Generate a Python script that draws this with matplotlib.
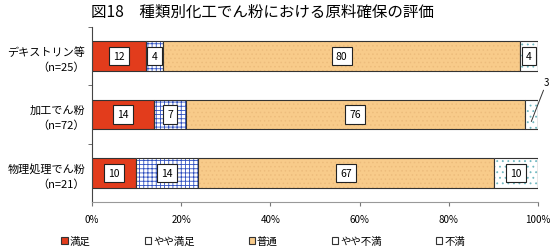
import matplotlib
matplotlib.use("Agg")
import matplotlib.pyplot as plt
from matplotlib.patches import Patch
import numpy as np

plt.rcParams['font.family'] = ['Noto Sans CJK JP', 'DejaVu Sans']
plt.rcParams['hatch.linewidth'] = 0.6

title = "図18　種類別化工でん粉における原料確保の評価"
categories = ["デキストリン等\n（n=25）", "加工でん粉\n（n=72）", "物理処理でん粉\n（n=21）"]
series = ["満足", "やや満足", "普通", "やや不満", "不満"]
v_manzoku = [12, 14, 10]
v_yaya_manzoku = [4, 7, 14]
v_futsu = [80, 76, 67]
v_yaya_fuman = [4, 3, 10]
v_fuman = [0, 0, 0]
xticklabels = ["0%", "20%", "40%", "60%", "80%", "100%"]

data = np.array([v_manzoku, v_yaya_manzoku, v_futsu, v_yaya_fuman, v_fuman], dtype=float)
pct = data / data.sum(axis=0) * 100

faces = ["#E23C1C", "white", "#F8CB8A", "white", "white"]
hatches = [None, "++++", "....", "...", None]
hcolors = [None, "#3050C0", "#EDBC7C", "#70B8C0", None]

fig = plt.figure(figsize=(5.5, 2.51), dpi=100)
ax = fig.add_axes([92/550, 1-203/251, 446/550, 175/251])

y = np.arange(len(categories))
h = 0.51
left = np.zeros(len(categories))
for i, s in enumerate(series):
    w = pct[i]
    if hatches[i]:
        ax.barh(y, w, left=left, height=h, color=faces[i], edgecolor=hcolors[i],
                hatch=hatches[i], linewidth=0)
    else:
        ax.barh(y, w, left=left, height=h, color=faces[i], linewidth=0)
    ax.barh(y, w, left=left, height=h, fill=False, edgecolor="#333333", linewidth=0.8)
    for j in range(len(categories)):
        val = data[i, j]
        if val <= 0:
            continue
        cx = left[j] + w[j] / 2
        if i == 3 and j == 1:
            ax.annotate(str(int(val)), xy=(cx, y[j] + 0.12), xytext=(101.3, y[j] - 0.55),
                        fontsize=7, ha="left", va="center", annotation_clip=False,
                        arrowprops=dict(arrowstyle="-", color="#333333", lw=0.7,
                                        shrinkA=0, shrinkB=0))
            continue
        ax.text(cx, y[j], str(int(val)), ha="center", va="center", fontsize=7.5,
                bbox=dict(boxstyle="square,pad=0.4", fc="white", ec="#222222", lw=0.8))
    left = left + w

ax.set_xlim(0, 100)
ax.set_ylim(2.5, -0.5)
ax.set_yticks(y)
ax.set_yticklabels(categories, fontsize=8, linespacing=1.5)
ax.set_yticks([-0.5, 0.5, 1.5], minor=True)
ax.tick_params(axis="y", which="major", length=0, pad=5)
ax.tick_params(axis="y", which="minor", length=3, color="#555555")
ax.set_xticks([0, 20, 40, 60, 80, 100])
ax.set_xticklabels(xticklabels, fontsize=7)
ax.tick_params(axis="x", length=3, color="#777777", pad=6)
for sp in ["top", "right"]:
    ax.spines[sp].set_visible(False)
ax.spines["left"].set_color("#444444")
ax.spines["bottom"].set_color("#999999")

fig.text(262/550, 1-12/251, title, ha="center", va="center", fontsize=11.2)

handles = []
for i, s in enumerate(series):
    handles.append(Patch(facecolor=faces[i], edgecolor="#333333", linewidth=0.8, label=s))
fig.legend(handles=handles, loc="center left", bbox_to_anchor=(52/550, 1-242/251), ncol=5,
           frameon=False, fontsize=7.5, handlelength=0.6, handleheight=0.6,
           handletextpad=0.2, columnspacing=5.2)

fig.savefig("out.png", dpi=100)
